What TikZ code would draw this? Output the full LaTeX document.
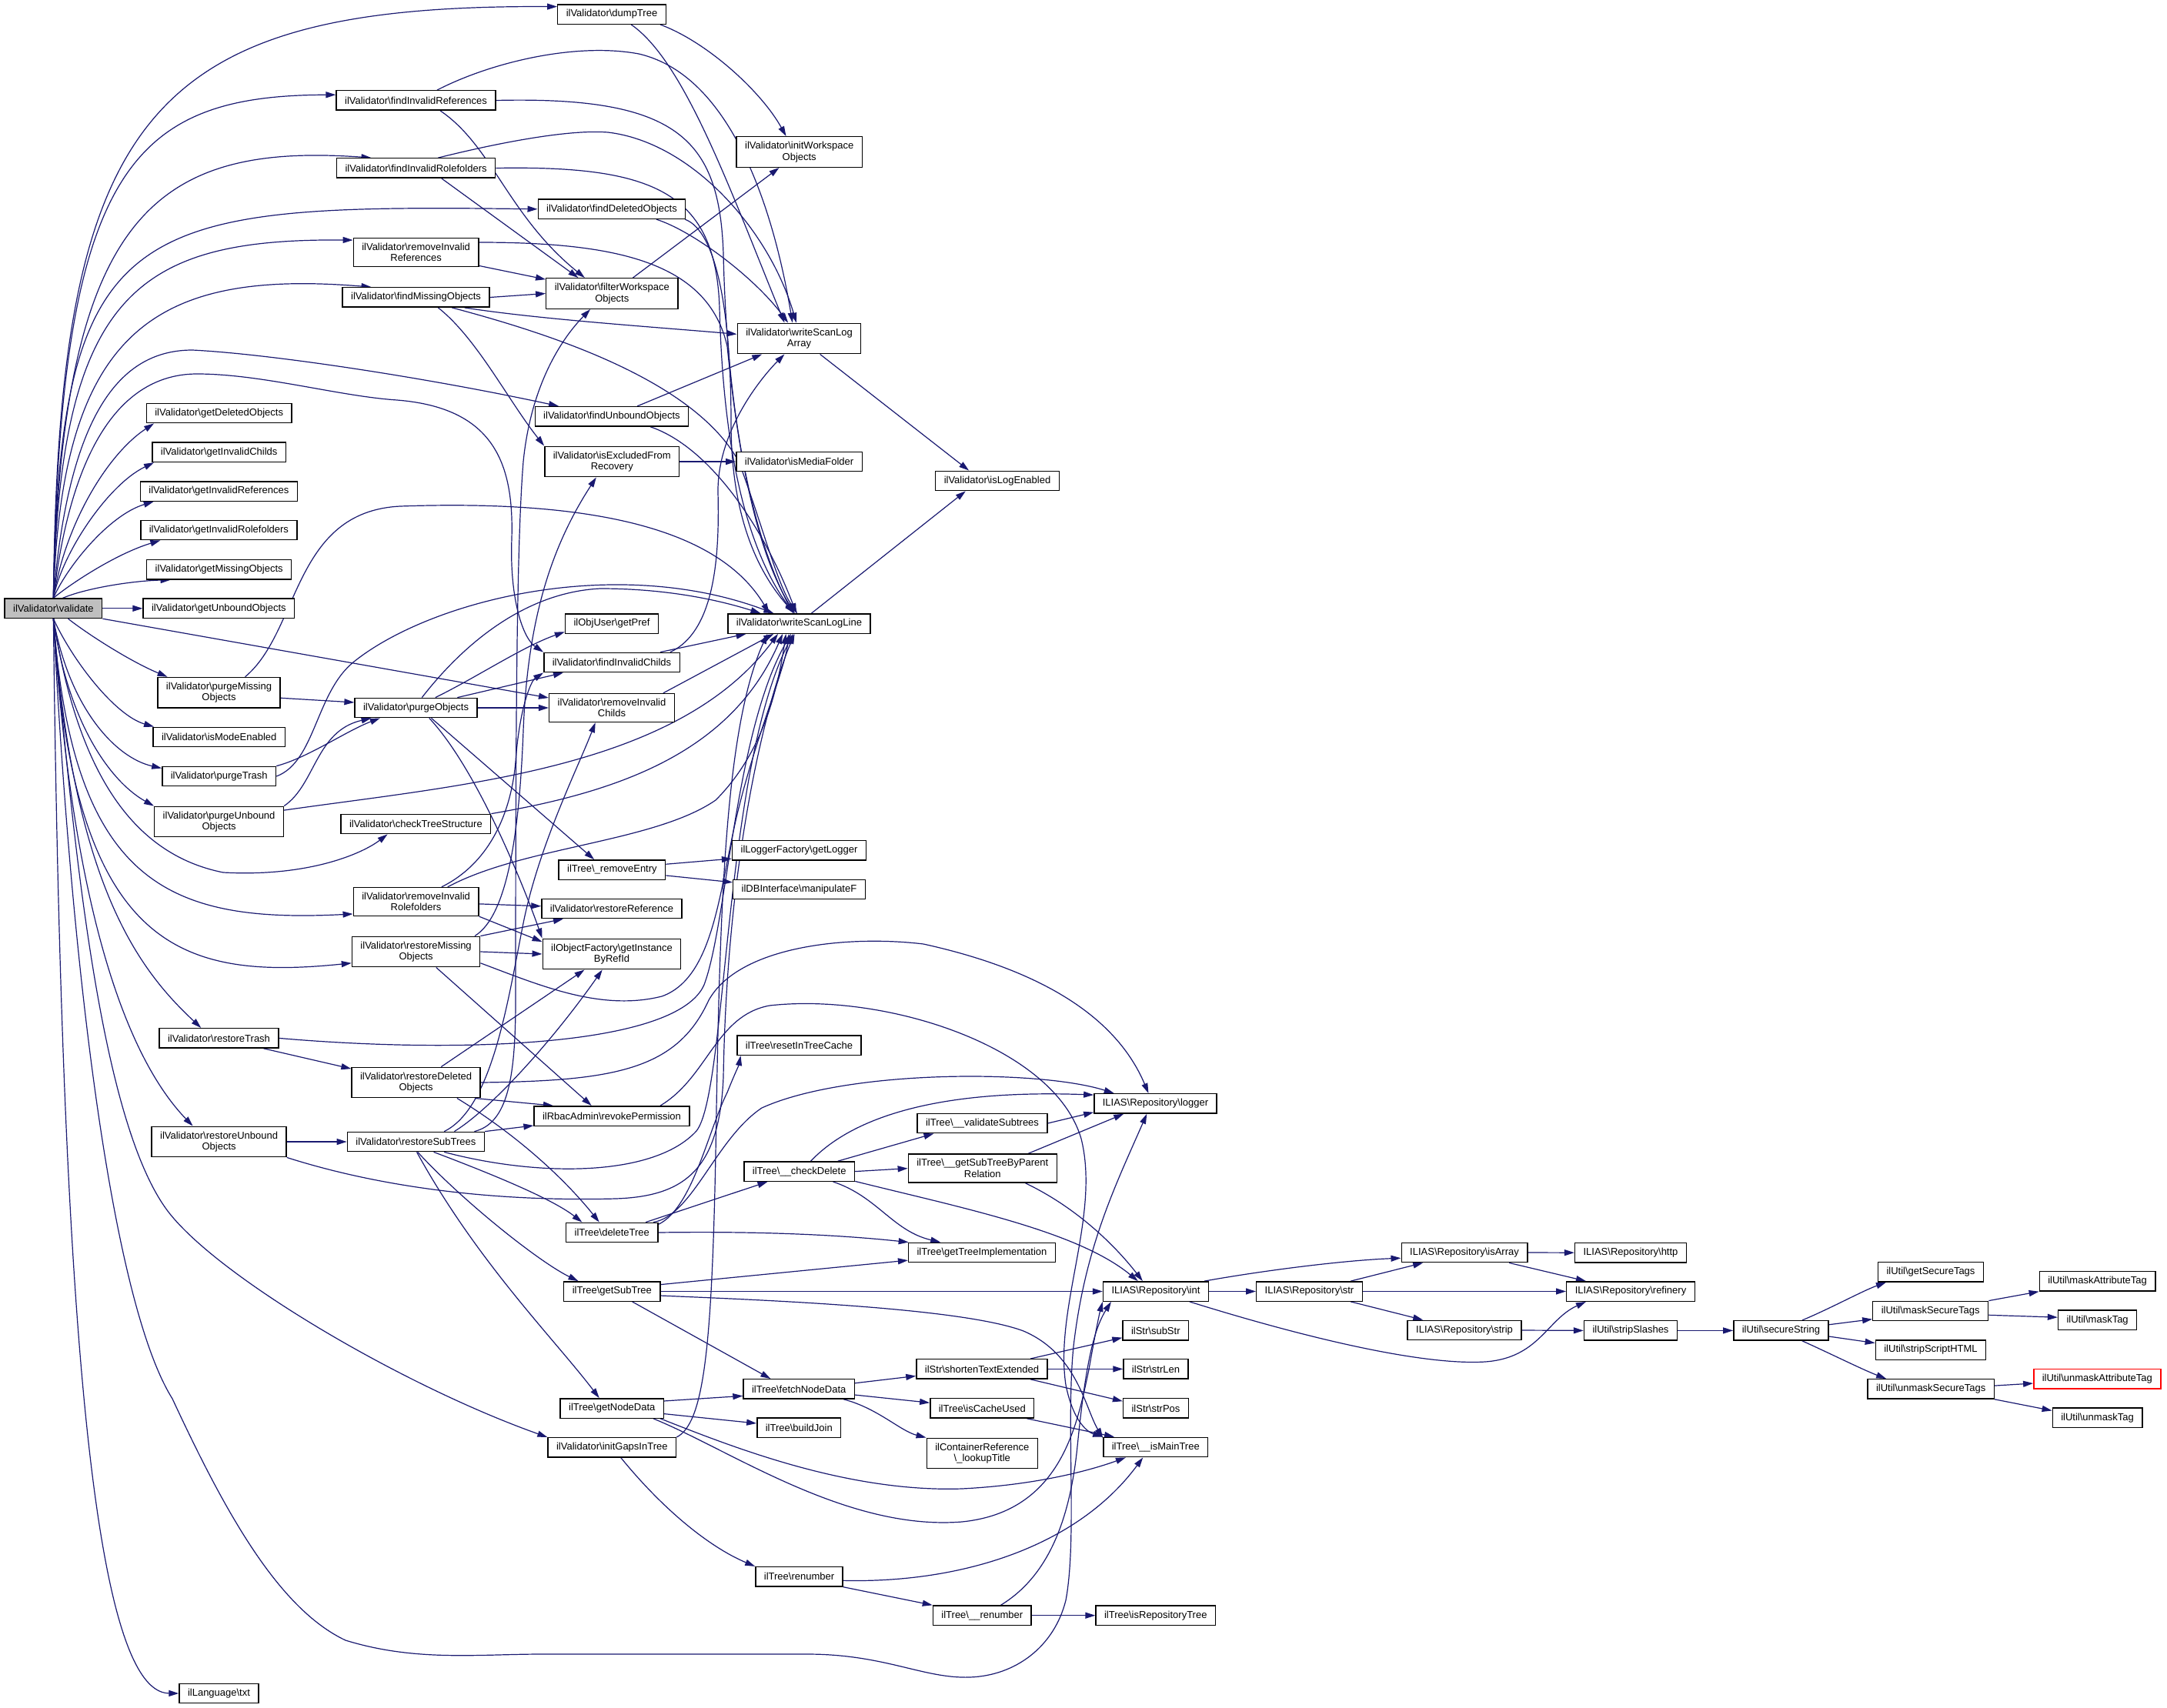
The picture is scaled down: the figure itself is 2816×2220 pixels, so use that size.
\documentclass[tikz,border=0pt]{standalone}
\usepackage{fontspec}
\setmainfont{Liberation Sans}
\usetikzlibrary{arrows.meta,backgrounds}
\definecolor{edgeblue}{RGB}{25,25,112}
\newcommand{\bkslash}{\textbackslash}
\tikzset{
  fn/.style={draw=black, line width=0.7pt, fill=white, font=\fontsize{6.5}{7.3}\selectfont,
    inner xsep=5.5pt, inner ysep=3.2pt, minimum height=12.7pt, align=center},
  root/.style={fn, fill=black!25},
  warn/.style={fn, draw=red},
  call/.style={draw=edgeblue, line width=0.6pt, -{Triangle[length=6.5pt,width=4pt]}},
}
\begin{document}
\begin{tikzpicture}[x=0.5pt,y=-0.5pt]
  \useasboundingbox (0,0) rectangle (2816,2220);
  % column of the caller
  \node[root] (validate) at (69.4,790.8) {ilValidator\bkslash validate};
  % getters and top level steps
  \node[fn] (getDeleted) at (284.7,537) {ilValidator\bkslash getDeletedObjects};
  \node[fn] (getInvChilds) at (284.7,587.8) {ilValidator\bkslash getInvalidChilds};
  \node[fn] (getInvRefs) at (284.4,638.5) {ilValidator\bkslash getInvalidReferences};
  \node[fn] (getInvRoles) at (284.4,689) {ilValidator\bkslash getInvalidRolefolders};
  \node[fn] (getMissing) at (284.7,740.3) {ilValidator\bkslash getMissingObjects};
  \node[fn] (getUnbound) at (284.4,790.8) {ilValidator\bkslash getUnboundObjects};
  \node[fn] (purgeMissing) at (284.5,900.2) {ilValidator\bkslash purgeMissing\\Objects};
  \node[fn] (isModeEnabled) at (284.7,958) {ilValidator\bkslash isModeEnabled};
  \node[fn] (purgeTrash) at (284.7,1009) {ilValidator\bkslash purgeTrash};
  \node[fn] (purgeUnbound) at (284.6,1068) {ilValidator\bkslash purgeUnbound\\Objects};
  \node[fn] (restoreTrash) at (284.5,1349.4) {ilValidator\bkslash restoreTrash};
  \node[fn] (restoreUnbound) at (284.6,1484) {ilValidator\bkslash restoreUnbound\\Objects};
  \node[fn] (langTxt) at (284.5,2201) {ilLanguage\bkslash txt};
  % second column
  \node[fn] (findInvRefs) at (540.5,130.5) {ilValidator\bkslash findInvalidReferences};
  \node[fn] (findInvRoles) at (540.6,218.5) {ilValidator\bkslash findInvalidRolefolders};
  \node[fn] (removeInvRefs) at (540.6,328) {ilValidator\bkslash removeInvalid\\References};
  \node[fn] (findMissing) at (540.6,386.5) {ilValidator\bkslash findMissingObjects};
  \node[fn] (purgeObjects) at (540.6,920) {ilValidator\bkslash purgeObjects};
  \node[fn] (checkTree) at (540.4,1071) {ilValidator\bkslash checkTreeStructure};
  \node[fn] (removeInvRoles) at (540.6,1172) {ilValidator\bkslash removeInvalid\\Rolefolders};
  \node[fn] (restoreMissing) at (540.6,1237) {ilValidator\bkslash restoreMissing\\Objects};
  \node[fn] (restoreDeleted) at (540.6,1407) {ilValidator\bkslash restoreDeleted\\Objects};
  \node[fn] (restoreSubTrees) at (540.4,1484) {ilValidator\bkslash restoreSubTrees};
  % third column
  \node[fn] (dumpTree) at (795,18.6) {ilValidator\bkslash dumpTree};
  \node[fn] (findDeleted) at (795,271.8) {ilValidator\bkslash findDeletedObjects};
  \node[fn] (filterWs) at (795.3,381.5) {ilValidator\bkslash filterWorkspace\\Objects};
  \node[fn] (findUnbound) at (795,541.3) {ilValidator\bkslash findUnboundObjects};
  \node[fn] (isExcluded) at (795.3,600) {ilValidator\bkslash isExcludedFrom\\Recovery};
  \node[fn] (getPref) at (795,810.5) {ilObjUser\bkslash getPref};
  \node[fn] (findInvChilds) at (795,861) {ilValidator\bkslash findInvalidChilds};
  \node[fn] (removeInvChilds) at (795,920) {ilValidator\bkslash removeInvalid\\Childs};
  \node[fn] (removeEntry) at (795.4,1130.6) {ilTree\bkslash\_removeEntry};
  \node[fn] (restoreRef) at (795,1181) {ilValidator\bkslash restoreReference};
  \node[fn] (getInstance) at (795,1240) {ilObjectFactory\bkslash getInstance\\ByRefId};
  \node[fn] (revokePerm) at (795,1450.5) {ilRbacAdmin\bkslash revokePermission};
  \node[fn] (deleteTree) at (795.3,1602) {ilTree\bkslash deleteTree};
  \node[fn] (getSubTree) at (795.3,1678.5) {ilTree\bkslash getSubTree};
  \node[fn] (getNodeData) at (795.3,1830.5) {ilTree\bkslash getNodeData};
  \node[fn] (initGaps) at (795.3,1881.4) {ilValidator\bkslash initGapsInTree};
  % fourth column
  \node[fn] (initWs) at (1038.7,197.5) {ilValidator\bkslash initWorkspace\\Objects};
  \node[fn] (logArray) at (1038.5,440) {ilValidator\bkslash writeScanLog\\Array};
  \node[fn] (isMedia) at (1038.6,600) {ilValidator\bkslash isMediaFolder};
  \node[fn] (logLine) at (1038.5,810.5) {ilValidator\bkslash writeScanLogLine};
  \node[fn] (getLogger) at (1038.5,1105.3) {ilLoggerFactory\bkslash getLogger};
  \node[fn] (manipulateF) at (1038.5,1155.9) {ilDBInterface\bkslash manipulateF};
  \node[fn] (resetCache) at (1038.5,1358.7) {ilTree\bkslash resetInTreeCache};
  \node[fn] (checkDelete) at (1038.7,1522.6) {ilTree\bkslash\_\_checkDelete};
  \node[fn] (fetchNode) at (1038.2,1805.4) {ilTree\bkslash fetchNodeData};
  \node[fn] (buildJoin) at (1038.3,1855.8) {ilTree\bkslash buildJoin};
  \node[fn] (renumber) at (1038.5,2049.3) {ilTree\bkslash renumber};
  % fifth column
  \node[fn] (isLogEnabled) at (1296,625) {ilValidator\bkslash isLogEnabled};
  \node[fn] (validateSubtrees) at (1276.5,1460) {ilTree\bkslash\_\_validateSubtrees};
  \node[fn] (subTreeByParent) at (1276.8,1518.6) {ilTree\bkslash\_\_getSubTreeByParent\\Relation};
  \node[fn] (treeImpl) at (1276,1628) {ilTree\bkslash getTreeImplementation};
  \node[fn] (shortenText) at (1276,1779.4) {ilStr\bkslash shortenTextExtended};
  \node[fn] (isCacheUsed) at (1276.3,1830.4) {ilTree\bkslash isCacheUsed};
  \node[fn] (lookupTitle) at (1276.3,1889) {ilContainerReference\\\bkslash\_lookupTitle};
  \node[fn] (renumberB) at (1276.3,2099.7) {ilTree\bkslash\_\_renumber};
  % sixth column
  \node[fn] (logger) at (1501.5,1434.4) {ILIAS\bkslash Repository\bkslash logger};
  \node[fn] (repoInt) at (1502,1678.5) {ILIAS\bkslash Repository\bkslash int};
  \node[fn] (subStr) at (1501.8,1729.4) {ilStr\bkslash subStr};
  \node[fn] (strLen) at (1502,1779.4) {ilStr\bkslash strLen};
  \node[fn] (strPos) at (1502,1830.4) {ilStr\bkslash strPos};
  \node[fn] (isMainTree) at (1501.8,1881) {ilTree\bkslash\_\_isMainTree};
  \node[fn] (isRepoTree) at (1501.8,2099.7) {ilTree\bkslash isRepositoryTree};
  % repository helpers
  \node[fn] (repoStr) at (1701.5,1678.5) {ILIAS\bkslash Repository\bkslash str};
  \node[fn] (repoIsArray) at (1903,1628) {ILIAS\bkslash Repository\bkslash isArray};
  \node[fn] (repoStrip) at (1903,1729) {ILIAS\bkslash Repository\bkslash strip};
  \node[fn] (repoHttp) at (2119,1628.2) {ILIAS\bkslash Repository\bkslash http};
  \node[fn] (repoRefinery) at (2119,1678.5) {ILIAS\bkslash Repository\bkslash refinery};
  \node[fn] (stripSlashes) at (2119,1729.4) {ilUtil\bkslash stripSlashes};
  \node[fn] (secureString) at (2314.4,1729.4) {ilUtil\bkslash secureString};
  \node[fn] (getSecureTags) at (2509,1653.3) {ilUtil\bkslash getSecureTags};
  \node[fn] (maskSecureTags) at (2508.7,1704) {ilUtil\bkslash maskSecureTags};
  \node[fn] (stripScript) at (2509,1754.5) {ilUtil\bkslash stripScriptHTML};
  \node[fn] (unmaskSecureTags) at (2509.2,1805.4) {ilUtil\bkslash unmaskSecureTags};
  \node[fn] (maskAttr) at (2725.6,1665.3) {ilUtil\bkslash maskAttributeTag};
  \node[fn] (maskTag) at (2725.6,1715.8) {ilUtil\bkslash maskTag};
  \node[warn] (unmaskAttr) at (2725.3,1792.2) {ilUtil\bkslash unmaskAttributeTag};
  \node[fn] (unmaskTag) at (2725.6,1842.8) {ilUtil\bkslash unmaskTag};

  \begin{scope}[on background layer]
    % calls of validate
    \draw[call] (validate.north) .. controls (76,150) and (190,6) .. (dumpTree.172);
    \draw[call] (validate.north) .. controls (78,220) and (170,124) .. (findInvRefs.176);
    \draw[call] (validate.north) .. controls (80,280) and (200,185) .. (findInvRoles.167);
    \draw[call] (validate.north) .. controls (78,280) and (170,265) .. (findDeleted.west);
    \draw[call] (validate.north) .. controls (78,380) and (180,310) .. (removeInvRefs.169);
    \draw[call] (validate.north) .. controls (80,430) and (200,350) .. (findMissing.167);
    \draw[call] (validate.north) .. controls (90,530) and (160,455) .. (250,455) .. controls (350,460) and (550,490) .. (findUnbound.169);
    \draw[call] (validate.north) .. controls (95,560) and (170,486) .. (256,486) .. controls (340,486) and (440,515) .. (516,520)
      .. controls (640,530) and (668,600) .. (665,700) .. controls (662,780) and (680,830) .. (findInvChilds.north west);
    \draw[call] (validate.south east) -- (removeInvChilds.171);
    \draw[call] (validate.north) .. controls (85,680) and (140,590) .. (getDeleted.189);
    \draw[call] (validate.north) .. controls (80,720) and (140,630) .. (getInvChilds.189);
    \draw[call] (validate.north) .. controls (85,740) and (140,670) .. (getInvRefs.189);
    \draw[call] (validate.north) .. controls (90,760) and (150,720) .. (getInvRoles.190);
    \draw[call] (validate.48) .. controls (110,765) and (170,755) .. (getMissing.192);
    \draw[call] (validate.east) -- (getUnbound.west);
    \draw[call] (validate.-35) .. controls (115,825) and (170,860) .. (purgeMissing.163);
    \draw[call] (validate.south) .. controls (95,860) and (150,930) .. (isModeEnabled.171);
    \draw[call] (validate.south) .. controls (90,920) and (150,985) .. (purgeTrash.172);
    \draw[call] (validate.south) .. controls (90,950) and (150,1020) .. (purgeUnbound.north west);
    \draw[call] (validate.south) .. controls (100,1000) and (170,1110) .. (290,1134) .. controls (400,1140) and (470,1110) .. (checkTree.200);
    \draw[call] (validate.south) .. controls (95,1150) and (220,1200) .. (removeInvRoles.191);
    \draw[call] (validate.south) .. controls (95,1230) and (230,1275) .. (restoreMissing.190);
    \draw[call] (validate.south) .. controls (95,1150) and (180,1260) .. (restoreTrash.150);
    \draw[call] (validate.south) .. controls (95,1200) and (170,1380) .. (restoreUnbound.149);
    \draw[call] (validate.south) .. controls (95,1100) and (130,1450) .. (215,1570) .. controls (275,1655) and (520,1800) .. (initGaps.north west);
    \draw[call] (validate.south) .. controls (80,1700) and (120,2200) .. (langTxt.west);
    \draw[call] (validate.south) .. controls (95,1300) and (150,1700) .. (224,1818) .. controls (290,1960) and (360,2090) .. (449,2132)
      .. controls (540,2160) and (620,2150) .. (704,2150) -- (1049,2150) .. controls (1150,2150) and (1200,2182) .. (1260,2180)
      .. controls (1320,2178) and (1370,2140) .. (1385,2080) .. controls (1400,2000) and (1385,1850) .. (1395,1750)
      .. controls (1410,1620) and (1450,1540) .. (logger.230);
    % finders
    \draw[call] (dumpTree.-12) .. controls (920,55) and (990,120) .. (initWs.130);
    \draw[call] (dumpTree.-28) .. controls (890,80) and (950,250) .. (logArray.133);
    \draw[call] (findInvRefs.26) .. controls (640,80) and (750,55) .. (830,70) .. controls (960,100) and (1010,300) .. (logArray.113);
    \draw[call] (findInvRefs.east) .. controls (880,125) and (935,180) .. (940,330) .. controls (945,550) and (980,700) .. (logLine.121);
    \draw[call] (findInvRefs.-23) .. controls (640,190) and (660,280) .. (filterWs.150);
    \draw[call] (findInvRoles.25) .. controls (650,185) and (740,168) .. (790,172) .. controls (900,185) and (1000,300) .. (logArray.100);
    \draw[call] (findInvRoles.east) .. controls (850,215) and (930,250) .. (935,400) .. controls (940,600) and (975,720) .. (logLine.118);
    \draw[call] (findInvRoles.-22) -- (filterWs.155);
    \draw[call] (findDeleted.-13) .. controls (900,300) and (980,360) .. (logArray.125);
    \draw[call] (findDeleted.-8) .. controls (930,300) and (950,400) .. (950,550) .. controls (950,680) and (990,750) .. (logLine.115);
    \draw[call] (removeInvRefs.-12) -- (filterWs.168);
    \draw[call] (removeInvRefs.9) .. controls (800,315) and (920,340) .. (945,450) .. controls (960,600) and (985,720) .. (logLine.113);
    \draw[call] (findMissing.east) -- (filterWs.west);
    \draw[call] (findMissing.-12) .. controls (700,415) and (850,425) .. (logArray.176);
    \draw[call] (findMissing.-16) .. controls (700,430) and (900,490) .. (960,600) .. controls (990,680) and (1010,760) .. (logLine.100);
    \draw[call] (findMissing.-25) .. controls (620,440) and (660,520) .. (isExcluded.north west);
    \draw[call] (findUnbound.22) -- (logArray.203);
    \draw[call] (findUnbound.-15) .. controls (920,580) and (990,680) .. (logLine.105);
    \draw[call] (filterWs.37) -- (initWs.218);
    \draw[call] (isExcluded.east) -- (isMedia.west);
    \draw[call] (logArray.-37) -- (isLogEnabled.160);
    \draw[call] (logLine.40) -- (isLogEnabled.198);
    \draw[call] (findInvChilds.12) -- (logLine.191);
    \draw[call] (findInvChilds.10) .. controls (930,820) and (935,720) .. (933,640) .. controls (932,560) and (990,490) .. (logArray.227);
    \draw[call] (removeInvChilds.16) -- (logLine.202);
    % purging
    \draw[call] (purgeMissing.-5) -- (purgeObjects.175);
    \draw[call] (purgeMissing.31) .. controls (390,820) and (380,665) .. (520,658) .. controls (750,650) and (930,680) .. (logLine.161);
    \draw[call] (purgeTrash.north east) .. controls (400,985) and (450,950) .. (purgeObjects.196);
    \draw[call] (purgeTrash.east) .. controls (410,990) and (410,900) .. (460,860) .. controls (560,780) and (800,720) .. (logLine.158);
    \draw[call] (purgeUnbound.north east) .. controls (410,1020) and (410,950) .. (purgeObjects.193);
    \draw[call] (purgeUnbound.10) .. controls (600,1020) and (880,1000) .. (logLine.206);
    \draw[call] (purgeObjects.60) .. controls (600,840) and (680,770) .. (780,765) .. controls (880,765) and (950,785) .. (logLine.165);
    \draw[call] (purgeObjects.28) .. controls (620,880) and (680,840) .. (getPref.190);
    \draw[call] (purgeObjects.14) -- (findInvChilds.192);
    \draw[call] (purgeObjects.east) -- (removeInvChilds.west);
    \draw[call] (purgeObjects.-34) -- (removeEntry.150);
    \draw[call] (purgeObjects.-38) .. controls (620,1000) and (680,1150) .. (getInstance.north west);
    \draw[call] (checkTree.north east) .. controls (800,1030) and (950,980) .. (logLine.212);
    \draw[call] (removeEntry.6) -- (getLogger.187);
    \draw[call] (removeEntry.-6) -- (manipulateF.174);
    % restoring
    \draw[call] (removeInvRoles.-2) -- (restoreRef.178);
    \draw[call] (removeInvRoles.south east) -- (getInstance.170);
    \draw[call] (removeInvRoles.25) .. controls (680,1100) and (850,1095) .. (930,1040) .. controls (990,980) and (1010,900) .. (logLine.218);
    \draw[call] (removeInvRoles.30) .. controls (640,1120) and (665,1050) .. (670,990) .. controls (675,920) and (690,885) .. (findInvChilds.south west);
    \draw[call] (restoreMissing.north east) -- (restoreRef.192);
    \draw[call] (restoreMissing.east) -- (getInstance.west);
    \draw[call] (restoreMissing.-38) -- (revokePerm.153);
    \draw[call] (restoreMissing.-10) .. controls (700,1280) and (780,1315) .. (860,1295) .. controls (930,1270) and (935,1150) .. (960,1050)
      .. controls (985,950) and (1020,870) .. (logLine.225);
    \draw[call] (restoreMissing.15) .. controls (660,1190) and (675,1080) .. (680,950) .. controls (685,820) and (710,720) .. (isExcluded.225);
    \draw[call] (restoreTrash.-13) -- (restoreDeleted.168);
    \draw[call] (restoreTrash.east) .. controls (600,1370) and (880,1360) .. (915,1280) .. controls (945,1200) and (955,950) .. (logLine.232);
    \draw[call] (restoreDeleted.32) -- (getInstance.210);
    \draw[call] (restoreDeleted.-15) -- (revokePerm.170);
    \draw[call] (restoreDeleted.-21) .. controls (680,1480) and (740,1540) .. (deleteTree.141);
    \draw[call] (restoreDeleted.east) .. controls (800,1405) and (880,1390) .. (921,1300) .. controls (960,1230) and (1100,1215) .. (1200,1227)
      .. controls (1350,1260) and (1450,1320) .. (logger.124);
    \draw[call] (restoreUnbound.east) -- (restoreSubTrees.west);
    \draw[call] (restoreUnbound.south east) .. controls (500,1545) and (650,1562) .. (800,1558) .. controls (890,1555) and (935,1520) .. (940,1400)
      .. controls (945,1100) and (1000,900) .. (logLine.246);
    \draw[call] (restoreSubTrees.north east) -- (revokePerm.187);
    \draw[call] (restoreSubTrees.15) .. controls (640,1440) and (720,1350) .. (getInstance.239);
    \draw[call] (restoreSubTrees.-20) .. controls (700,1530) and (850,1530) .. (905,1470) .. controls (945,1420) and (940,1000) .. (logLine.240);
    \draw[call] (restoreSubTrees.-30) .. controls (650,1530) and (720,1560) .. (deleteTree.161);
    \draw[call] (restoreSubTrees.-80) .. controls (600,1560) and (700,1640) .. (getSubTree.163);
    \draw[call] (restoreSubTrees.-85) .. controls (620,1640) and (720,1740) .. (getNodeData.141);
    \draw[call] (restoreSubTrees.10) .. controls (660,1460) and (670,1400) .. (670,1300) .. controls (670,900) and (672,700) .. (680,600)
      .. controls (690,500) and (730,440) .. (filterWs.216);
    \draw[call] (restoreSubTrees.20) .. controls (640,1440) and (660,1300) .. (680,1200) .. controls (700,1100) and (750,1000) .. (removeInvChilds.222);
    \draw[call] (revokePerm.12) .. controls (920,1400) and (930,1320) .. (1000,1307) .. controls (1150,1290) and (1370,1360) .. (1405,1480)
      .. controls (1430,1580) and (1370,1700) .. (1385,1800) .. controls (1395,1850) and (1415,1862) .. (isMainTree.north west);
    % tree
    \draw[call] (deleteTree.17) -- (checkDelete.198);
    \draw[call] (deleteTree.east) .. controls (1000,1600) and (1100,1606) .. (treeImpl.172);
    \draw[call] (deleteTree.10) .. controls (900,1570) and (920,1470) .. (945,1420) .. controls (955,1395) and (960,1385) .. (resetCache.190);
    \draw[call] (deleteTree.14) .. controls (900,1580) and (930,1480) .. (990,1440) .. controls (1100,1390) and (1350,1390) .. (logger.166);
    \draw[call] (checkDelete.15) -- (validateSubtrees.192);
    \draw[call] (checkDelete.east) -- (subTreeByParent.west);
    \draw[call] (checkDelete.-17) .. controls (1140,1555) and (1160,1600) .. (treeImpl.166);
    \draw[call] (checkDelete.-10) .. controls (1250,1570) and (1400,1600) .. (repoInt.150);
    \draw[call] (checkDelete.42) .. controls (1100,1460) and (1200,1415) .. (logger.172);
    \draw[call] (validateSubtrees.east) -- (logger.188);
    \draw[call] (subTreeByParent.18) -- (logger.198);
    \draw[call] (subTreeByParent.-19) .. controls (1400,1570) and (1450,1620) .. (repoInt.142);
    \draw[call] (getSubTree.8) -- (treeImpl.186);
    \draw[call] (getSubTree.east) -- (repoInt.west);
    \draw[call] (getSubTree.-27) -- (fetchNode.160);
    \draw[call] (getSubTree.-5) .. controls (1000,1690) and (1250,1700) .. (1330,1730) .. controls (1400,1760) and (1410,1830) .. (isMainTree.170);
    \draw[call] (getNodeData.8) -- (fetchNode.187);
    \draw[call] (getNodeData.-6) -- (buildJoin.174);
    \draw[call] (getNodeData.-12) .. controls (950,1880) and (1100,1940) .. (1250,1935) .. controls (1350,1930) and (1420,1910) .. (isMainTree.199);
    \draw[call] (getNodeData.-14) .. controls (950,1885) and (1100,1990) .. (1250,1978) .. controls (1380,1965) and (1400,1850) .. (1415,1780)
      .. controls (1422,1740) and (1428,1710) .. (repoInt.south west);
    \draw[call] (initGaps.-49) .. controls (860,1960) and (920,2010) .. (renumber.north west);
    \draw[call] (initGaps.north east) .. controls (915,1850) and (925,1750) .. (930,1500) .. controls (935,1200) and (940,950) .. (logLine.198);
    \draw[call] (fetchNode.6) -- (shortenText.186);
    \draw[call] (fetchNode.-6) -- (isCacheUsed.174);
    \draw[call] (fetchNode.-13) .. controls (1140,1830) and (1170,1860) .. (lookupTitle.north west);
    \draw[call] (shortenText.12) -- (subStr.192);
    \draw[call] (shortenText.east) -- (strLen.west);
    \draw[call] (shortenText.-12) -- (strPos.168);
    \draw[call] (isCacheUsed.-13) -- (isMainTree.166);
    \draw[call] (renumber.south east) -- (renumberB.north west);
    \draw[call] (renumber.-5) .. controls (1250,2058) and (1400,2010) .. (isMainTree.219);
    \draw[call] (renumberB.east) -- (isRepoTree.west);
    \draw[call] (renumberB.29) .. controls (1360,2050) and (1390,1980) .. (1400,1880) .. controls (1410,1780) and (1420,1730) .. (repoInt.193);
    % repository and util
    \draw[call] (repoInt.east) -- (repoStr.west);
    \draw[call] (repoInt.12) .. controls (1650,1650) and (1750,1638) .. (repoIsArray.185);
    \draw[call] (repoInt.-17) .. controls (1700,1740) and (1850,1775) .. (1930,1770) .. controls (2000,1765) and (2010,1715) .. (repoRefinery.193);
    \draw[call] (repoStr.14) -- (repoIsArray.194);
    \draw[call] (repoStr.-14) -- (repoStrip.166);
    \draw[call] (repoStr.east) -- (repoRefinery.west);
    \draw[call] (repoIsArray.east) -- (repoHttp.west);
    \draw[call] (repoIsArray.-13) -- (repoRefinery.167);
    \draw[call] (repoStrip.east) -- (stripSlashes.west);
    \draw[call] (stripSlashes.east) -- (secureString.west);
    \draw[call] (secureString.26) .. controls (2380,1700) and (2420,1678) .. (getSecureTags.193);
    \draw[call] (secureString.7) -- (maskSecureTags.188);
    \draw[call] (secureString.-7) -- (stripScript.173);
    \draw[call] (secureString.-26) .. controls (2380,1760) and (2420,1780) .. (unmaskSecureTags.167);
    \draw[call] (maskSecureTags.north east) -- (maskAttr.south west);
    \draw[call] (maskSecureTags.-4) -- (maskTag.176);
    \draw[call] (unmaskSecureTags.3) -- (unmaskAttr.184);
    \draw[call] (unmaskSecureTags.south east) -- (unmaskTag.171);
  \end{scope}
\end{tikzpicture}
\end{document}
